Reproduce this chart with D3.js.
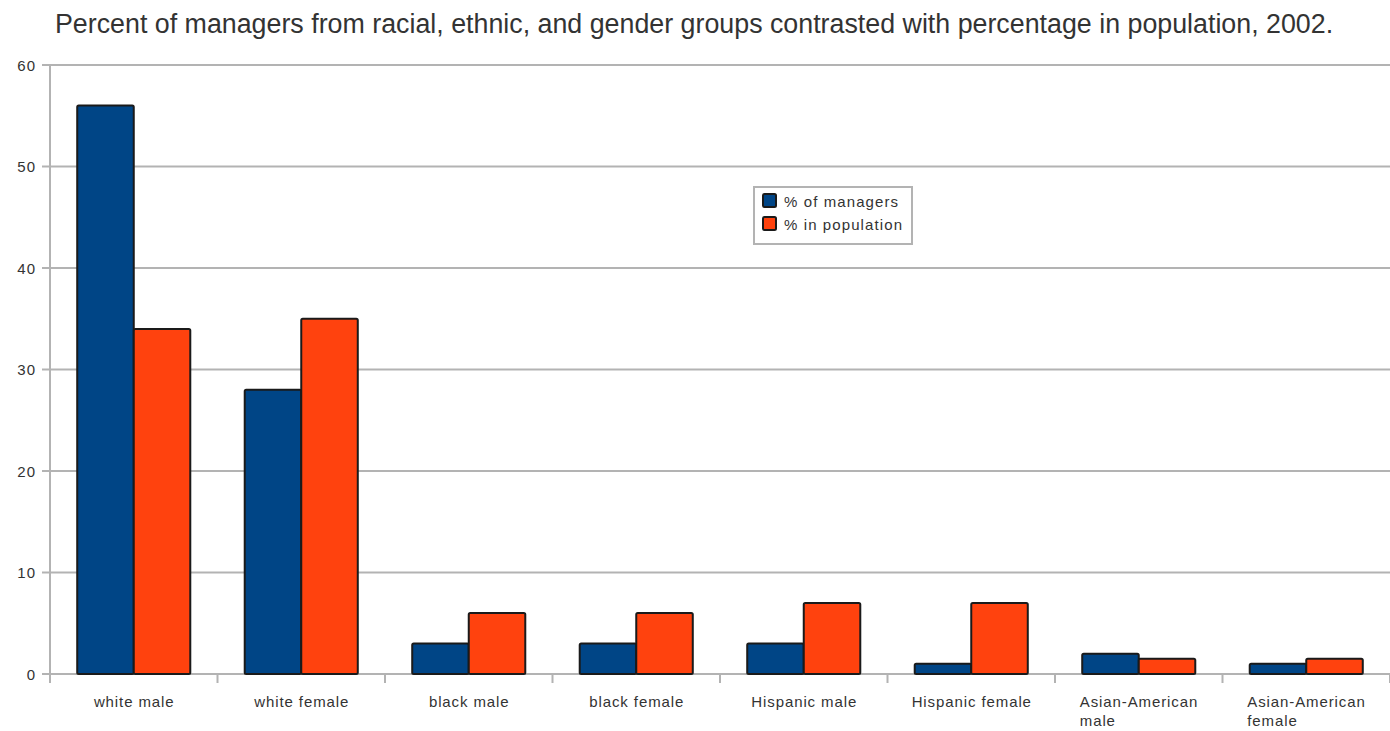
<!DOCTYPE html>
<html><head><meta charset="utf-8">
<script src="https://cdn.jsdelivr.net/npm/d3@7"></script>
<style>body{margin:0;background:#fff;}svg{display:block;font-family:"Liberation Sans",Arial,sans-serif;}</style>
</head><body>
<svg id="c" width="1390" height="731"></svg>
<script>
const categories = [["white male"],["white female"],["black male"],["black female"],["Hispanic male"],["Hispanic female"],["Asian-American","male"],["Asian-American","female"]];
const seriesNames = ["% of managers","% in population"];
const managers = [56,28,3,3,3,1,2,1];
const population = [34,35,6,6,7,7,1.5,1.5];
const yTicks = [0,10,20,30,40,50,60];
const title = "Percent of managers from racial, ethnic, and gender groups contrasted with percentage in population, 2002.";
const colors = ["#004586","#ff420e"];

const svg = d3.select("#c");
const m = {l:50, r:0, t:65, b:57};
const W = 1390, H = 731;
const x = d3.scaleBand().domain(d3.range(categories.length)).range([m.l, W-m.r]).paddingInner(0).paddingOuter(0);
const y = d3.scaleLinear().domain([0,60]).range([674, 65]);
const xs = d3.scaleBand().domain([0,1]).range([0, x.bandwidth()*0.675]);

svg.append("text").attr("x",55).attr("y",33).attr("font-size",26.8).attr("fill","#333").text(title);

// grid
svg.append("g").selectAll("line").data(yTicks).join("line")
  .attr("x1",42).attr("x2",W).attr("y1",d=>y(d)).attr("y2",d=>y(d))
  .attr("stroke","#b3b3b3").attr("stroke-width",2);
svg.append("line").attr("x1",m.l).attr("x2",m.l).attr("y1",y(60)).attr("y2",683).attr("stroke","#b3b3b3").attr("stroke-width",2);
svg.append("g").selectAll("text").data(yTicks).join("text")
  .attr("x",36).attr("y",d=>y(d)+5.5).attr("text-anchor","end").attr("font-size",15).attr("letter-spacing",1).attr("fill","#333").text(d=>d);
// category ticks
svg.append("g").selectAll("line").data(d3.range(categories.length+1)).join("line")
  .attr("x1",d=>m.l+d*x.step()).attr("x2",d=>m.l+d*x.step()).attr("y1",674).attr("y2",683)
  .attr("stroke","#b3b3b3").attr("stroke-width",2);

// bars
const series = [managers, population];
const groups = svg.append("g").selectAll("g").data(categories).join("g")
  .attr("transform",(d,i)=>`translate(${x(i)+x.bandwidth()*0.1625},0)`);
groups.each(function(d,i){
  const g = d3.select(this);
  series.forEach((s,k)=>{
    g.append("rect").attr("x",xs(k)).attr("width",xs.bandwidth())
      .attr("y",y(s[i])).attr("height",y(0)-y(s[i]))
      .attr("fill",colors[k]).attr("stroke","#1a1a1a").attr("stroke-width",2).attr("rx",1.5);
  });
});

// category labels
svg.append("g").selectAll("text").data(categories).join("text")
  .attr("font-size",15).attr("letter-spacing",0.9).attr("fill","#333")
  .each(function(d,i){
    const t = d3.select(this);
    if(d.length===1){
      t.attr("text-anchor","middle").attr("x",x(i)+x.bandwidth()/2+0.5).attr("y",707).text(d[0]);
    } else {
      const x0 = x(i)+x.bandwidth()/2 - 59;
      d.forEach((line,j)=>t.append("tspan").attr("x",x0).attr("y",707+j*19).text(line));
    }
  });

// legend
const lg = svg.append("g").attr("transform","translate(754,187)");
lg.append("rect").attr("width",158).attr("height",57).attr("fill","#fff").attr("stroke","#b3b3b3").attr("stroke-width",2);
seriesNames.forEach((n,k)=>{
  lg.append("rect").attr("x",9).attr("y",7+k*23).attr("width",13).attr("height",13).attr("fill",colors[k]).attr("stroke","#1a1a1a").attr("stroke-width",2).attr("rx",1.5);
  lg.append("text").attr("x",30).attr("y",19.5+k*23).attr("font-size",15).attr("letter-spacing",1.1).attr("fill","#333").text(n);
});
</script>
</body></html>
